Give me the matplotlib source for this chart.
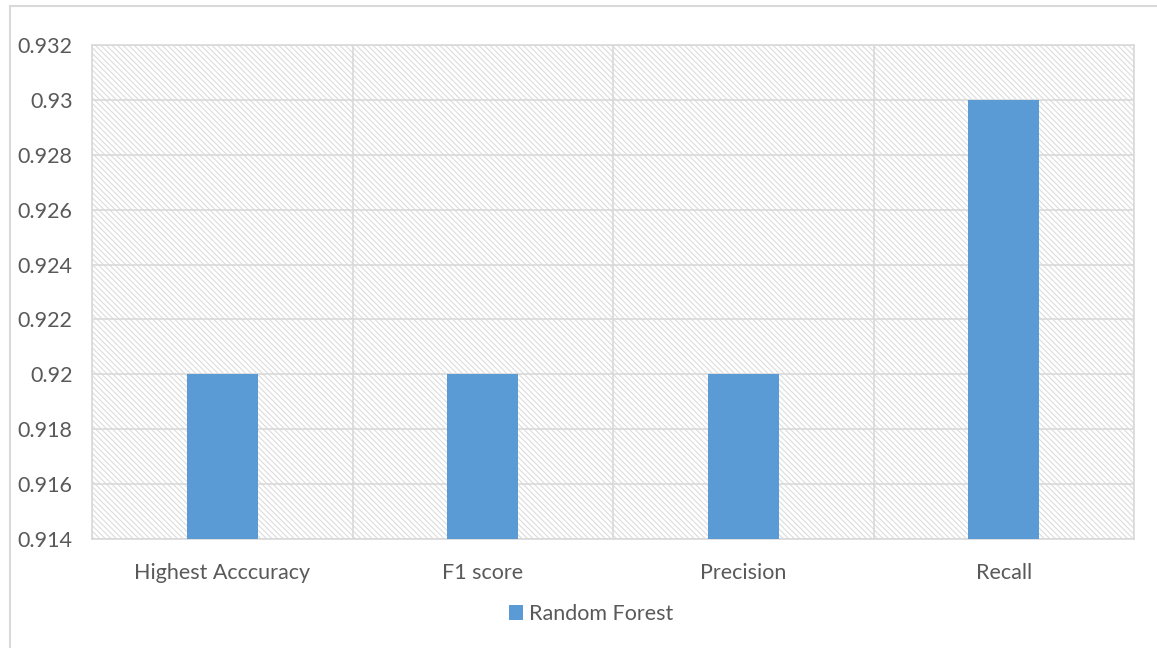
import matplotlib
matplotlib.use("Agg")
import matplotlib.pyplot as plt
from matplotlib.patches import Rectangle
from matplotlib.lines import Line2D
import numpy as np

categories = ["Highest Acccuracy", "F1 score", "Precision", "Recall"]
random_forest = [0.92, 0.92, 0.92, 0.93]
y_ticks = [0.914, 0.916, 0.918, 0.92, 0.922, 0.924, 0.926, 0.928, 0.93, 0.932]
y_tick_labels = ["0.914", "0.916", "0.918", "0.92", "0.922", "0.924",
                 "0.926", "0.928", "0.93", "0.932"]
series_name = "Random Forest"

text_color = "#595959"
grid_color = "#d9d9d9"
bar_color = "#5B9BD5"

plt.rcParams["font.family"] = ["Lato", "DejaVu Sans"]
plt.rcParams["hatch.color"] = "#dcdcdc"
plt.rcParams["hatch.linewidth"] = 0.8

W, H = 1157, 648
fig = plt.figure(figsize=(W / 100, H / 100), dpi=100)

# chart frame
fig.add_artist(Line2D([10 / W, 1.0], [1 - 6 / H, 1 - 6 / H], color=grid_color, lw=1.5,
                      transform=fig.transFigure))
fig.add_artist(Line2D([10 / W, 10 / W], [1 - 6 / H, 0.0], color=grid_color, lw=1.5,
                      transform=fig.transFigure))

ax = fig.add_axes([92 / W, 1 - 539 / H, (1134 - 92) / W, (539 - 45) / H])

# hatched plot area
ax.add_patch(Rectangle((0, 0), 1, 1, transform=ax.transAxes, facecolor="white",
                       edgecolor="#dcdcdc", hatch="\\\\\\\\\\\\", lw=0, zorder=0))

x = np.arange(len(categories))
ax.bar(x, random_forest, width=0.273, color=bar_color, zorder=3, label=series_name)

ax.set_xlim(-0.5, len(categories) - 0.5)
ax.set_ylim(y_ticks[0], y_ticks[-1])
ax.set_yticks(y_ticks)
ax.set_yticklabels(y_tick_labels)
ax.set_xticks(x)
ax.set_xticklabels(categories)

# gridlines: horizontal at ticks, vertical at category boundaries
for yv in y_ticks:
    ax.axhline(yv, color=grid_color, lw=1.2, zorder=1)
for xv in np.arange(-0.5, len(categories), 1.0):
    ax.axvline(xv, color=grid_color, lw=1.2, zorder=1)

for s in ax.spines.values():
    s.set_color(grid_color)
    s.set_linewidth(1.2)

ax.tick_params(axis="both", length=0, colors=text_color, labelsize=15.5)
ax.tick_params(axis="y", pad=14)
ax.tick_params(axis="x", pad=17)

leg = fig.legend(loc="center", bbox_to_anchor=(591 / W, 1 - 614 / H), frameon=False,
                 fontsize=15.5, handlelength=0.65, handleheight=0.65, handletextpad=0.3)
for t in leg.get_texts():
    t.set_color(text_color)

fig.savefig("out.png", dpi=100)
